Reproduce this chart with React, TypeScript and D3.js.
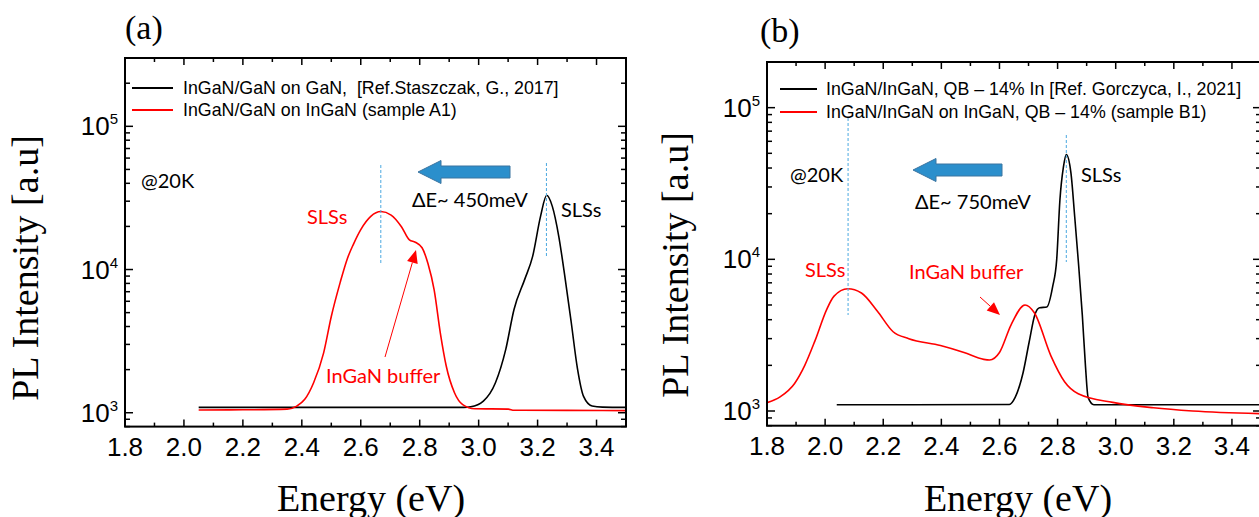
import * as d3 from 'd3'
import React, { useEffect, useRef } from 'react';

// tick values
const energyTicks = [1.8, 2.0, 2.2, 2.4, 2.6, 2.8, 3.0, 3.2, 3.4];
const decadeTicks = [1e3, 1e4, 1e5];

// panel (a)
const aRefE = [2.05, 2.2, 2.4, 2.6, 2.8, 2.95, 2.973, 3.016, 3.057, 3.092, 3.12, 3.156, 3.183, 3.21, 3.231, 3.25, 3.272, 3.294, 3.314, 3.335, 3.356, 3.385, 3.42, 3.5];
const aRefI = [1090, 1090, 1090, 1090, 1090, 1090, 1100, 1206, 1620, 2770, 5260, 8500, 12300, 23500, 33000, 27600, 17000, 8500, 4300, 2050, 1300, 1115, 1095, 1090];
const aSampleE = [2.05, 2.2, 2.35, 2.383, 2.41, 2.44, 2.474, 2.5, 2.53, 2.555, 2.575, 2.6, 2.634, 2.668, 2.703, 2.738, 2.765, 2.785, 2.808, 2.828, 2.849, 2.87, 2.89, 2.918, 2.946, 2.987, 3.1, 3.12, 3.3, 3.5];
const aSampleI = [1045, 1048, 1060, 1113, 1240, 1620, 2620, 4700, 8100, 12000, 15000, 19000, 23500, 25400, 24000, 19900, 16100, 15500, 14200, 11000, 7200, 3600, 2120, 1380, 1140, 1066, 1060, 1040, 1038, 1035];

// panel (b)
const bRefE = [2.04, 2.3, 2.634, 2.654, 2.681, 2.702, 2.722, 2.738, 2.763, 2.783, 2.797, 2.808, 2.82, 2.83, 2.846, 2.859, 2.871, 2.885, 2.896, 2.905, 2.925, 3.2, 3.5];
const bRefI = [1100, 1100, 1105, 1230, 1780, 2840, 4330, 4800, 4850, 6600, 10000, 24600, 40500, 49000, 37000, 19000, 9900, 4320, 1970, 1230, 1100, 1100, 1100];
const bSampleE = [1.8, 1.845, 1.895, 1.93, 1.965, 2.006, 2.03, 2.078, 2.125, 2.18, 2.234, 2.288, 2.397, 2.478, 2.546, 2.566, 2.6, 2.64, 2.688, 2.72, 2.777, 2.824, 2.871, 2.99, 3.13, 3.265, 3.5];
const bSampleI = [1135, 1240, 1520, 2000, 2900, 4700, 5700, 6400, 6000, 4550, 3330, 3000, 2700, 2430, 2190, 2170, 2430, 3700, 5000, 4440, 2310, 1560, 1300, 1140, 1050, 1000, 960];

const legendA = ['InGaN/GaN on GaN,  [Ref.Staszczak, G., 2017]', 'InGaN/GaN on InGaN (sample A1)'];
const legendB = ['InGaN/InGaN, QB \u2013 14% In [Ref. Gorczyca, I., 2021]', 'InGaN/InGaN on InGaN, QB \u2013 14% (sample B1)'];

const W = 1259, H = 517;
const SANS = "'Liberation Sans', Arial, sans-serif";
const SERIF = "'Liberation Serif', 'Times New Roman', serif";
const CAL = "Lato, 'Open Sans', sans-serif";

const panels = [
    {
        tag: '(a)', tagX: 125, tagY: 39,
        left: 125, right: 626, top: 58, bottom: 426.6, yDomain: [800, 3e5],
        titleX: 38, titleY: 268, energyX: 371,
        series: [{ E: aRefE, I: aRefI, color: '#000' }, { E: aSampleE, I: aSampleI, color: '#ff0000' }],
        legend: legendA, legendLine: [132, 173], legendTextX: 183, legendY: [88, 110],
        dashes: [[2.668, 165, 263], [3.23, 163, 257]],
        blueArrow: { tip: 418, tail: 510, y: 172 },
        redArrow: [385, 357, 416, 250],
        texts: [
            { t: '@20K', x: 141, y: 188, c: '#000' },
            { t: '\u0394E~ 450meV', x: 412, y: 207, c: '#000' },
            { t: 'SLSs', x: 561, y: 217, c: '#000' },
            { t: 'SLSs', x: 307, y: 224, c: '#ff0000' },
            { t: 'InGaN buffer', x: 326, y: 383, c: '#ff0000' },
        ],
    },
    {
        tag: '(b)', tagX: 760, tagY: 42,
        left: 767, right: 1261, top: 62, bottom: 425.7, yDomain: [800, 2e5],
        titleX: 688, titleY: 265, energyX: 1018,
        series: [{ E: bRefE, I: bRefI, color: '#000' }, { E: bSampleE, I: bSampleI, color: '#ff0000' }],
        legend: legendB, legendLine: [780, 817], legendTextX: 826, legendY: [89, 112],
        dashes: [[2.079, 118, 315], [2.83, 135, 262]],
        blueArrow: { tip: 913, tail: 1002, y: 170 },
        redArrow: [980, 297, 1000, 315],
        texts: [
            { t: '@20K', x: 790, y: 182, c: '#000' },
            { t: '\u0394E~ 750meV', x: 915, y: 209, c: '#000' },
            { t: 'SLSs', x: 1081, y: 182, c: '#000' },
            { t: 'SLSs', x: 805, y: 277, c: '#ff0000' },
            { t: 'InGaN buffer', x: 909, y: 279, c: '#ff0000' },
        ],
    },
];

const App = () => {
    const ref = useRef(null);

    useEffect(() => {
        const svg = d3.select(ref.current);
        svg.selectAll('*').remove();

        panels.forEach((p, pi) => {
            const g = svg.append('g');
            const x = d3.scaleLinear().domain([1.8, 3.5]).range([p.left, p.right]);
            const y = d3.scaleLog().domain(p.yDomain).range([p.bottom, p.top]);

            const clipId = 'clip' + pi;
            svg.append('clipPath').attr('id', clipId)
                .append('rect')
                .attr('x', p.left).attr('y', p.top)
                .attr('width', p.right - p.left).attr('height', p.bottom - p.top);

            // minor/major ticks, all pointing inwards
            const minorE = d3.range(18, 35).map(v => v / 10);
            minorE.forEach(e => {
                const major = energyTicks.some(t => Math.abs(t - e) < 1e-6);
                const len = major ? 7 : 4;
                g.append('line').attr('x1', x(e)).attr('x2', x(e))
                    .attr('y1', p.bottom).attr('y2', p.bottom - len)
                    .attr('stroke', '#000').attr('stroke-width', 1.5);
                g.append('line').attr('x1', x(e)).attr('x2', x(e))
                    .attr('y1', p.top).attr('y2', p.top + len)
                    .attr('stroke', '#000').attr('stroke-width', 1.5);
            });
            const yTicks = y.ticks().filter(v => v >= p.yDomain[0] && v <= p.yDomain[1]);
            yTicks.forEach(v => {
                const major = decadeTicks.includes(v);
                const len = major ? 8 : 5;
                g.append('line').attr('x1', p.left).attr('x2', p.left + len)
                    .attr('y1', y(v)).attr('y2', y(v))
                    .attr('stroke', '#000').attr('stroke-width', 1.5);
                g.append('line').attr('x1', p.right).attr('x2', p.right - len)
                    .attr('y1', y(v)).attr('y2', y(v))
                    .attr('stroke', '#000').attr('stroke-width', 1.5);
            });

            // tick labels
            energyTicks.forEach(e => {
                g.append('text').attr('x', x(e)).attr('y', p.bottom + 29)
                    .attr('text-anchor', 'middle')
                    .style('font-family', SANS).style('font-size', '26px')
                    .text(e.toFixed(1));
            });
            decadeTicks.forEach(v => {
                const t = g.append('text').attr('x', p.left - 7).attr('y', y(v) + 9)
                    .attr('text-anchor', 'end')
                    .style('font-family', SANS).style('font-size', '26px');
                t.append('tspan').text('10');
                t.append('tspan').attr('dy', -11).style('font-size', '15px').text(String(Math.log10(v)));
            });

            // curves
            p.series.forEach(s => {
                const pts = s.E.map((e, i) => [x(e), y(s.I[i])]);
                g.append('path')
                    .attr('d', d3.line().curve(d3.curveMonotoneX)(pts))
                    .attr('clip-path', `url(#${clipId})`)
                    .attr('fill', 'none')
                    .attr('stroke', s.color)
                    .attr('stroke-width', 1.6);
            });

            // frame
            g.append('rect')
                .attr('x', p.left).attr('y', p.top)
                .attr('width', p.right - p.left).attr('height', p.bottom - p.top)
                .attr('fill', 'none').attr('stroke', '#000').attr('stroke-width', 2);

            // legend
            p.legend.forEach((txt, i) => {
                g.append('line')
                    .attr('x1', p.legendLine[0]).attr('x2', p.legendLine[1])
                    .attr('y1', p.legendY[i]).attr('y2', p.legendY[i])
                    .attr('stroke', p.series[i].color).attr('stroke-width', 2);
                g.append('text').attr('x', p.legendTextX).attr('y', p.legendY[i] + 6)
                    .style('font-family', SANS).style('font-size', '17.8px')
                    .style('white-space', 'pre')
                    .text(txt);
            });

            // dashed guides
            p.dashes.forEach(([e, y1, y2]) => {
                g.append('line').attr('x1', x(e)).attr('x2', x(e))
                    .attr('y1', y1).attr('y2', y2)
                    .attr('stroke', '#4aa8e0').attr('stroke-width', 1)
                    .attr('stroke-dasharray', '3,2');
            });

            // blue shift arrow
            const ba = p.blueArrow;
            const headLen = 23, shaft = 6, head = 11.5;
            const path = d3.path();
            path.moveTo(ba.tip, ba.y);
            path.lineTo(ba.tip + headLen, ba.y - head);
            path.lineTo(ba.tip + headLen, ba.y - shaft);
            path.lineTo(ba.tail, ba.y - shaft);
            path.lineTo(ba.tail, ba.y + shaft);
            path.lineTo(ba.tip + headLen, ba.y + shaft);
            path.lineTo(ba.tip + headLen, ba.y + head);
            path.closePath();
            g.append('path').attr('d', path.toString())
                .attr('fill', '#2b8fcc').attr('stroke', '#3b74a0').attr('stroke-width', 1);

            // red pointer arrow
            const [x1, y1, x2, y2] = p.redArrow;
            const ang = Math.atan2(y2 - y1, x2 - x1);
            const hl = 13, hw = 5.5;
            const bx = x2 - hl * Math.cos(ang), by = y2 - hl * Math.sin(ang);
            g.append('line').attr('x1', x1).attr('y1', y1).attr('x2', bx).attr('y2', by)
                .attr('stroke', '#ff0000').attr('stroke-width', 1);
            g.append('path')
                .attr('d', `M${x2},${y2}L${bx - hw * Math.sin(ang)},${by + hw * Math.cos(ang)}L${bx + hw * Math.sin(ang)},${by - hw * Math.cos(ang)}Z`)
                .attr('fill', '#ff0000');

            // annotations
            p.texts.forEach(d => {
                g.append('text').attr('x', d.x).attr('y', d.y)
                    .style('font-family', CAL).style('font-size', '20px')
                    .attr('fill', d.c).text(d.t);
            });

            // titles
            g.append('text').attr('x', p.tagX).attr('y', p.tagY)
                .style('font-family', SERIF).style('font-size', '34px').text(p.tag);
            g.append('text').attr('x', p.energyX).attr('y', 511)
                .attr('text-anchor', 'middle')
                .style('font-family', SERIF).style('font-size', '38px').text('Energy (eV)');
            g.append('text')
                .attr('transform', `translate(${p.titleX},${p.titleY}) rotate(-90)`)
                .attr('text-anchor', 'middle')
                .style('font-family', SERIF).style('font-size', '38px').text('PL Intensity [a.u]');
        });
    }, []);

    return (
        <div>
            <style>{`body{margin:0;background:#fff}`}</style>
            <svg ref={ref} width={W} height={H} style={{ display: 'block' }} />
        </div>
    );
};

export default App;
